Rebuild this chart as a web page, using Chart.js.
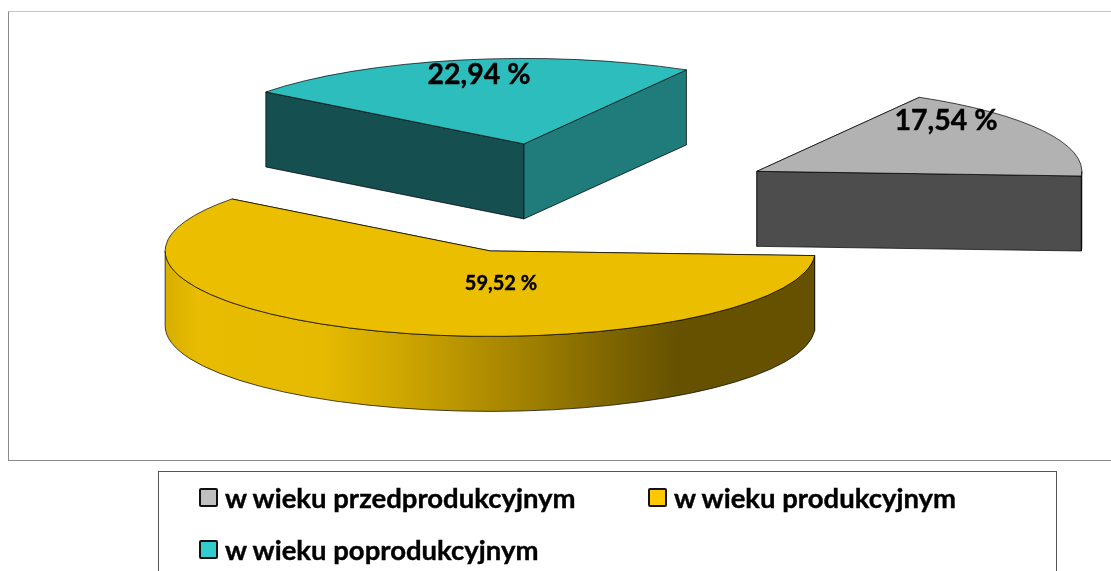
<!DOCTYPE html>
<html lang="pl">
<head>
<meta charset="utf-8">
<title>Struktura wieku</title>
<script src="https://cdn.jsdelivr.net/npm/chart.js@4"></script>
<style>
    html, body { margin: 0; padding: 0; background: #fff; overflow: hidden; }
    #page { position: relative; width: 1111px; height: 571px; overflow: hidden; }
    #frame {
        position: absolute; left: 8px; top: 11px; width: 1110px; height: 448px;
        border-left: 1px solid #8a8a8a; border-top: 1px solid #c4c4c4; border-bottom: 1px solid #8a8a8a;
    }
    canvas { position: absolute; left: 0; top: 0; }
    #legend {
        position: absolute; left: 158px; top: 471px; width: 899px; height: 120px;
        border: 1px solid #555; box-sizing: border-box;
        font: bold 27.5px Lato, sans-serif; color: #000;
        -webkit-text-stroke: 0.4px #000;
    }
    .item { position: absolute; white-space: nowrap; line-height: 30px; }
    .box {
        position: absolute; left: 0; top: 3px; width: 15px; height: 15px;
        border: 2px solid #111; border-radius: 2px;
    }
    .item span { position: absolute; left: 26px; top: -2px; }
</style>
</head>
<body>
<div id="page">
    <div id="frame"></div>
    <canvas id="chart" width="1111" height="571"></canvas>
    <div id="legend"></div>
</div>
<script>
// dane
const categories = ["w wieku przedprodukcyjnym", "w wieku produkcyjnym", "w wieku poprodukcyjnym"];
const shares = [17.54, 59.52, 22.94];

// kolory
const topColors = ["#b2b2b2", "#ecbe00", "#2dbdbd"];
const legendColors = ["#c0c0c0", "#ffc800", "#33cccc"];
const startFaceColors = ["#4d4d4d", "#665200", "#154f50"];
const endFaceColors = ["#4d4d4d", "#665200", "#1f7c7b"];

// uklad
const sliceOffsets = [884, 858, 808];
const sliceNudge = [[0, 2], [2, 1], [1, -1]];
const labelSpots = [[946, 121], [501, 284], [479, 75]];
const labelFonts = [28.5, 20, 28.5];
const legendSpots = [[40, 13], [489, 13], [40, 65]];
const squash = 0.263;
const depth = 75;
const pieY = 197;

// gradient sciany zoltego wycinka: [x na szerokosci kola, kolor]
const wallStops = [
    [0, "#d8ae00"], [0.05, "#e8bc00"], [0.24, "#e6ba00"], [0.36, "#cfa700"],
    [0.49, "#b08d00"], [0.58, "#9a7c00"], [0.67, "#826800"], [0.79, "#655100"], [1, "#655100"]
];

const legend = document.getElementById("legend");
categories.forEach((name, i) => {
    const item = document.createElement("div");
    item.className = "item";
    item.style.left = legendSpots[i][0] + "px";
    item.style.top = legendSpots[i][1] + "px";
    item.innerHTML = `<div class="box" style="background:${legendColors[i]}"></div><span>${name}</span>`;
    legend.appendChild(item);
});

function drawFace(ctx, a, b, color) {
    ctx.beginPath();
    ctx.moveTo(a.x, a.y);
    ctx.lineTo(b.x, b.y);
    ctx.lineTo(b.x, b.y + depth);
    ctx.lineTo(a.x, a.y + depth);
    ctx.closePath();
    ctx.fillStyle = color;
    ctx.fill();
    ctx.stroke();
}

// rysuje wycinki kola jako bryly, z katow policzonych przez Chart.js
const pie3d = {
    id: "pie3d",
    beforeDatasetsDraw(chart) {
        const ctx = chart.ctx;
        const arcs = chart.getDatasetMeta(0).data;
        const order = [2, 0, 1];
        ctx.save();
        ctx.lineWidth = 1;
        ctx.strokeStyle = "rgba(0,0,0,0.7)";
        order.forEach(i => {
            const arc = arcs[i];
            const r = arc.outerRadius;
            const mid = (arc.startAngle + arc.endAngle) / 2;
            const shift = arc.options.offset / 4;
            const cx = arc.x + Math.cos(mid) * shift + sliceNudge[i][0];
            const cy = pieY + Math.sin(mid) * shift * squash + sliceNudge[i][1];
            const at = a => ({ x: cx + Math.cos(a) * r, y: cy + Math.sin(a) * r * squash });
            const p0 = { x: cx, y: cy };

            // sciany promieniowe
            drawFace(ctx, p0, at(arc.startAngle), startFaceColors[i]);
            drawFace(ctx, p0, at(arc.endAngle), endFaceColors[i]);

            // sciana zewnetrzna, tylko przednia czesc luku
            for (let k = -1; k <= 1; k++) {
                const from = Math.max(arc.startAngle, k * 2 * Math.PI);
                const to = Math.min(arc.endAngle, k * 2 * Math.PI + Math.PI);
                if (to <= from) continue;
                ctx.beginPath();
                ctx.ellipse(cx, cy, r, r * squash, 0, from, to);
                ctx.ellipse(cx, cy + depth, r, r * squash, 0, to, from, true);
                ctx.closePath();
                if (i === 1) {
                    const g = ctx.createLinearGradient(cx - r, 0, cx + r, 0);
                    wallStops.forEach(s => g.addColorStop(s[0], s[1]));
                    ctx.fillStyle = g;
                } else {
                    ctx.fillStyle = endFaceColors[i];
                }
                ctx.fill();
                ctx.stroke();
            }

            // wierzch
            ctx.beginPath();
            ctx.moveTo(cx, cy);
            ctx.ellipse(cx, cy, r, r * squash, 0, arc.startAngle, arc.endAngle);
            ctx.closePath();
            ctx.fillStyle = arc.options.backgroundColor;
            ctx.fill();
            ctx.stroke();
        });

        ctx.fillStyle = "#000";
        ctx.strokeStyle = "#000";
        ctx.lineWidth = 0.4;
        ctx.textAlign = "center";
        ctx.textBaseline = "middle";
        shares.forEach((v, i) => {
            const text = v.toFixed(2).replace(".", ",") + " %";
            ctx.font = `bold ${labelFonts[i]}px Lato, sans-serif`;
            ctx.fillText(text, labelSpots[i][0], labelSpots[i][1]);
            ctx.strokeText(text, labelSpots[i][0], labelSpots[i][1]);
        });
        ctx.restore();
        return false;
    }
};

new Chart(document.getElementById("chart"), {
    type: "pie",
    data: {
        labels: categories,
        datasets: [{
            data: shares,
            backgroundColor: topColors,
            borderWidth: 0,
            offset: sliceOffsets
        }]
    },
    options: {
        responsive: false,
        animation: false,
        rotation: 30,
        radius: 325,
        cutout: "0%",
        layout: { padding: { left: 14 } },
        plugins: {
            legend: { display: false },
            tooltip: { enabled: false }
        }
    },
    plugins: [pie3d]
});
</script>
</body>
</html>
